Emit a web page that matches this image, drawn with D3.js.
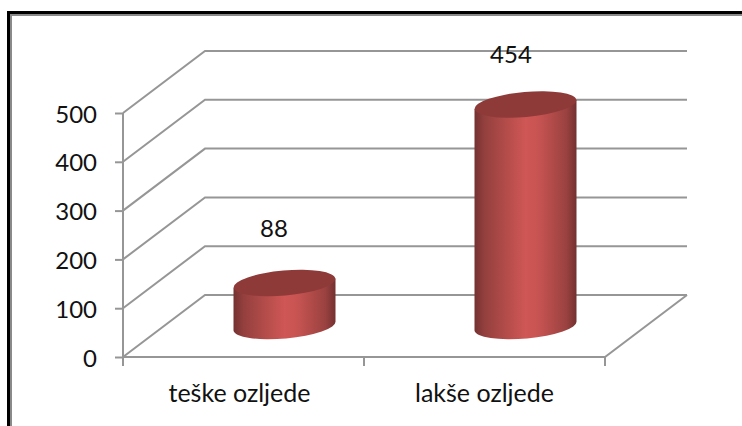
<!DOCTYPE html>
<html>
<head>
<meta charset="utf-8">
<script src="https://cdn.jsdelivr.net/npm/d3@7"></script>
<style>
html, body { margin: 0; padding: 0; background: #fff; overflow: hidden; }
svg { display: block; }
text { font-family: Lato, "Noto Sans", sans-serif; fill: #111; }
</style>
</head>
<body>
<script>
// Chart data
const categories = ["teške ozljede", "lakše ozljede"];
const values = [88, 454];
const yTicks = [0, 100, 200, 300, 400, 500];

const w = 742;
const h = 426;
// Where the front of the floor sits and how far the back wall is pushed
const left = 123;
const right = 605;
const depthX = 82;
const depthY = -62;
const gridColor = "#969696";

const svg = d3.select("body").append("svg").attr("width", w).attr("height", h);

// Gradient across the cylinder side
const grad = svg.append("defs").append("linearGradient").attr("id", "side");
[[0, "#743231"], [0.1, "#94403e"], [0.5, "#cf5755"], [0.62, "#c85452"], [0.9, "#9a4240"], [1, "#733130"]]
  .forEach(s => grad.append("stop").attr("offset", s[0]).attr("stop-color", s[1]));

// Frame: only top and left edges are visible
svg.append("rect").attr("x", 7).attr("y", 11).attr("width", w - 7).attr("height", 3).attr("fill", "#000");
svg.append("rect").attr("x", 7).attr("y", 11).attr("width", 3).attr("height", h - 11).attr("fill", "#000");
svg.append("rect").attr("x", 10).attr("y", 14).attr("width", w - 10).attr("height", 2).attr("fill", "#8a8a8a");
svg.append("rect").attr("x", 10).attr("y", 14).attr("width", 2).attr("height", h - 14).attr("fill", "#8a8a8a");

const yScale = d3.scaleLinear().domain([0, 500]).range([357, 113]);
const xScale = d3.scaleBand().domain(categories).range([left, right]);

// Back wall and side wall lines
const grid = svg.append("g").attr("fill", "none").attr("stroke", gridColor).attr("stroke-width", 2);
grid.selectAll("path")
  .data(yTicks)
  .enter()
  .append("path")
  .attr("d", d => {
    const y = yScale(d);
    return `M${left},${y}L${left + depthX},${y + depthY}L${right + depthX},${y + depthY}`;
  });
// Floor front edge and right side
grid.append("path")
  .attr("d", `M${left},${yScale(0)}L${right},${yScale(0)}L${right + depthX},${yScale(0) + depthY}`);

// Y axis
const yAxis = svg.append("g")
  .attr("transform", `translate(${left},0)`)
  .call(d3.axisLeft(yScale).tickValues(yTicks).tickSize(8).tickPadding(18));
yAxis.selectAll("line").attr("stroke", gridColor).attr("stroke-width", 2);
yAxis.select(".domain").attr("stroke", gridColor).attr("stroke-width", 2).attr("d", `M0,${yScale(500)}V${yScale(0)}`);
yAxis.selectAll("text").style("font-size", "24px").attr("fill", "#111").attr("y", 1.5);

// Category ticks sit on band edges, not centres
const edges = [left, left + xScale.bandwidth(), right];
svg.append("g").selectAll("line")
  .data(edges)
  .enter()
  .append("line")
  .attr("x1", d => d).attr("x2", d => d)
  .attr("y1", yScale(0)).attr("y2", yScale(0) + 9)
  .attr("stroke", gridColor).attr("stroke-width", 2);

// X axis labels
const xAxis = svg.append("g")
  .attr("transform", `translate(0,${yScale(0)})`)
  .call(d3.axisBottom(xScale).tickSize(0).tickPadding(27));
xAxis.select(".domain").remove();
xAxis.selectAll("text").style("font-size", "25px").attr("fill", "#111")
  .attr("dx", (d, i) => i === 0 ? -4 : 0);

// Cylinders
const rx = 51;
const ry = 12.5;
const tiltY = 4.6;
const rotation = -5;
const bars = svg.append("g").selectAll("g")
  .data(categories.map((c, i) => ({ c: c, v: values[i] })))
  .enter()
  .append("g");

const cx = d => xScale(d.c) + xScale.bandwidth() / 2 + depthX / 2;
const floorY = yScale(0) + depthY / 2;
const topY = d => floorY - (yScale(0) - yScale(d.v));

bars.append("path")
  .attr("fill", "url(#side)")
  .attr("d", d => {
    const x = cx(d), t = topY(d);
    return `M${x - rx},${t + tiltY}L${x - rx},${floorY + tiltY}` +
      `A${rx},${ry} ${rotation} 0 0 ${x + rx},${floorY - tiltY}` +
      `L${x + rx},${t - tiltY}Z`;
  });
bars.append("ellipse")
  .attr("rx", rx)
  .attr("ry", ry)
  .attr("fill", "#8e3a39")
  .attr("transform", d => `translate(${cx(d)},${topY(d)}) rotate(${rotation})`);

// Data labels
const labelX = [274, 511];
const labelY = [229, 55];
svg.append("g").selectAll("text")
  .data(values)
  .enter()
  .append("text")
  .attr("x", (d, i) => labelX[i])
  .attr("y", (d, i) => labelY[i])
  .attr("dy", "0.35em")
  .attr("text-anchor", "middle")
  .style("font-size", "24px")
  .text(d => d);
</script>
</body>
</html>
